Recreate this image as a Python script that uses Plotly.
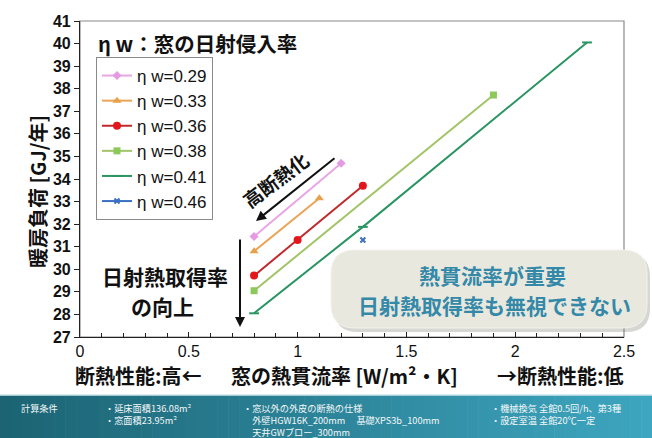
import plotly.graph_objects as go

# Heating load vs. window U-value for each solar heat gain coefficient (ηw)
series_names = ["η w=0.29", "η w=0.33", "η w=0.36", "η w=0.38", "η w=0.41", "η w=0.46"]
u_029 = [0.8, 1.2]
load_029 = [31.45, 34.7]
u_033 = [0.8, 1.1]
load_033 = [30.8, 33.15]
u_036 = [0.8, 1.0, 1.3]
load_036 = [29.72, 31.3, 33.7]
u_038 = [0.8, 1.9]
load_038 = [29.05, 37.72]
u_041 = [0.8, 1.3, 2.33]
load_041 = [28.05, 31.88, 40.05]
u_046 = [1.3]
load_046 = [31.3]

x_ticks = [0, 0.5, 1, 1.5, 2, 2.5]
x_tick_text = ["0", "0.5", "1", "1.5", "2", "2.5"]
y_ticks = list(range(27, 42))

W, H = 652, 438
L, R, T, B = 80, 28, 21, 101
PW, PH = W - L - R, H - T - B

def px(x):
    return (x - L) / PW

def py(y):
    return (H - B - y) / PH

JP = "Noto Sans CJK JP"
NUM = "Liberation Sans"

fig = go.Figure()

styles = [
    (u_029, load_029, "#e9a6e6", "#e49be3", "diamond", 7),
    (u_033, load_033, "#e9a455", "#e9a04a", "triangle-up", 8),
    (u_036, load_036, "#c02a2e", "#e3161c", "circle", 8),
    (u_038, load_038, "#a2c468", "#8cc85a", "square", 7),
    (u_041, load_041, "#2a9463", "#2a9463", "line-ew", 7),
    (u_046, load_046, "#3b6fc4", "#3b6fc4", "x-thin", 5),
]
for name, (xs, ys, lc, mc, sym, ms) in zip(series_names, styles):
    fig.add_trace(go.Scatter(
        x=xs, y=ys, name=name, mode="lines+markers",
        line=dict(color=lc, width=2),
        marker=dict(symbol=sym, size=ms, color=mc,
                    line=dict(color=mc, width=2 if sym in ("line-ew", "x-thin") else 0)),
    ))

shapes = []

# plot frame (top/right in grey)
shapes.append(dict(type="rect", xref="paper", yref="paper", x0=0, x1=1, y0=0, y1=1,
                   line=dict(color="#8a8a8a", width=1.2), layer="below"))

# bottom conditions band with a horizontal gradient
n_strips = 60
c0 = (28, 100, 116)
c1 = (62, 166, 192)
for i in range(n_strips):
    t = i / (n_strips - 1)
    col = tuple(int(c0[k] + (c1[k] - c0[k]) * t) for k in range(3))
    shapes.append(dict(type="rect", xref="paper", yref="paper",
                       x0=px(i * W / n_strips), x1=px((i + 1) * W / n_strips + 0.6),
                       y0=py(H + 2), y1=py(395),
                       fillcolor="rgb(%d,%d,%d)" % col, line=dict(width=0), layer="above"))
shapes.append(dict(type="line", xref="paper", yref="paper", x0=px(0), x1=px(W),
                   y0=py(395), y1=py(395), line=dict(color="#cfe6ec", width=1.5)))

# rounded callout box with a soft shadow
def rounded_path(x0, y0, x1, y1, r):
    return ("M {a},{b} L {c},{b} Q {x1},{b} {x1},{d} L {x1},{e} Q {x1},{y1} {c},{y1} "
            "L {a},{y1} Q {x0},{y1} {x0},{e} L {x0},{d} Q {x0},{b} {a},{b} Z").format(
        a=px(x0 + r), c=px(x1 - r), b=py(y0), d=py(y0 + r), e=py(y1 - r),
        x0=px(x0), x1=px(x1), y1=py(y1))

shapes.append(dict(type="path", xref="paper", yref="paper",
                   path=rounded_path(334, 253, 650, 332, 24),
                   fillcolor="rgba(120,120,110,0.30)", line=dict(width=0), layer="above"))
shapes.append(dict(type="path", xref="paper", yref="paper",
                   path=rounded_path(331, 250, 647, 328, 24),
                   fillcolor="#e9e8df", line=dict(color="#f3f2ec", width=1), layer="above"))

fig.update_layout(shapes=shapes)

ann = []

def label(txt, x, y, size, color="#111", bold=True, angle=0, xanchor="center",
          yanchor="middle", family=JP):
    ann.append(dict(text=txt, x=px(x), y=py(y), xref="paper", yref="paper",
                    xanchor=xanchor, yanchor=yanchor, showarrow=False, textangle=angle,
                    align="left", borderpad=0,
                    font=dict(family=family, size=size, color=color,
                              weight="bold" if bold else "normal")))

# legend caption
label("η w：窓の日射侵入率", 97, 43, 20.5, xanchor="left")
# axis titles
label("暖房負荷 [GJ/年]", 37, 192, 20, angle=-90)
for txt, cx in [("断熱性能:高←", 138), ("窓の熱貫流率 [W/m²・K]", 344), ("→断熱性能:低", 560)]:
    label(txt, cx, 375, 20)

# in-plot guidance
label("高断熱化", 275, 179, 19, angle=-37)
ann.append(dict(x=px(256), y=py(221), ax=px(336), ay=py(157), xref="x domain", yref="y domain",
                axref="x domain", ayref="y domain", text="", showarrow=True, arrowhead=2,
                arrowsize=1, arrowwidth=2, arrowcolor="#111"))
ann.append(dict(x=px(240), y=py(327), ax=px(240), ay=py(238), xref="x domain", yref="y domain",
                axref="x domain", ayref="y domain", text="", showarrow=True, arrowhead=2,
                arrowsize=1, arrowwidth=2, arrowcolor="#111"))
label("日射熱取得率", 165, 276, 21)
label("の向上", 162, 306, 21)

# callout text
label("熱貫流率が重要", 492, 275, 21, color="#3589a8")
label("日射熱取得率も無視できない", 494, 305, 21, color="#3589a8")

# calculation conditions in the band
band = [
    ("計算条件", 20),
    ("・延床面積136.08m²<br>・窓面積23.95m²", 104),
    ("・窓以外の外皮の断熱の仕様<br>　外壁HGW16K_200mm　 基礎XPS3b_100mm<br>　天井GWブロー_300mm", 242),
    ("・機械換気 全館0.5回/h、第3種<br>・設定室温 全館20℃一定", 490),
]
for txt, x0 in band:
    label(txt, x0, 400, 9.2, color="#f4f8f9", bold=False, xanchor="left", yanchor="top")

fig.update_layout(annotations=ann)

fig.update_layout(
    width=W, height=H,
    margin=dict(l=L, r=R, t=T, b=B, pad=0),
    paper_bgcolor="white", plot_bgcolor="white",
    showlegend=True,
    legend=dict(x=px(96), y=py(57), xanchor="left", yanchor="top",
                bgcolor="white", bordercolor="#8a8a8a", borderwidth=1,
                font=dict(family=NUM, size=17, color="#111"),
                itemwidth=30, tracegroupgap=0),
    xaxis=dict(range=[0, 2.5], tickvals=x_ticks, ticktext=x_tick_text,
               showgrid=False, zeroline=False, showline=True, linecolor="#222", linewidth=1.2,
               ticks="inside", ticklen=5, tickcolor="#222",
               minor=dict(dtick=0.1, ticks="inside", ticklen=4, tickcolor="#222"),
               tickfont=dict(family=NUM, size=16, color="#111")),
    yaxis=dict(range=[27, 41], tickvals=y_ticks, showgrid=False, zeroline=False,
               showline=True, linecolor="#222", linewidth=1.2,
               ticks="outside", ticklen=5, tickcolor="#222",
               tickfont=dict(family=NUM, size=16, color="#111", weight="bold")),
)

fig.write_html("out.html")
